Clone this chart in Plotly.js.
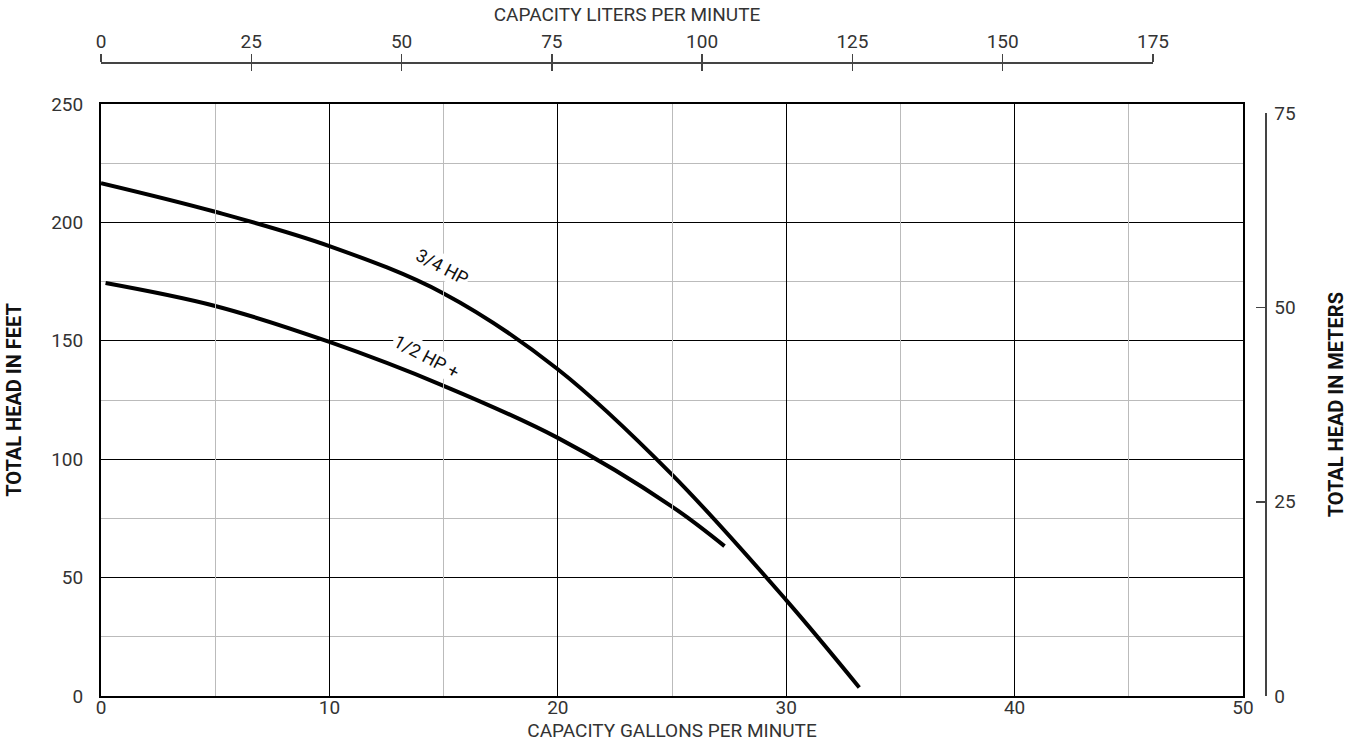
<!DOCTYPE html>
<html>
<head>
<meta charset="utf-8">
<script src="https://cdn.plot.ly/plotly-3.0.1.min.js"></script>
<style>html,body{margin:0;padding:0;background:#fff;}#chart{width:1355px;height:744px;}</style>
</head>
<body>
<div id="chart"></div>
<script>
// Data
const gpm34 = [0, 5, 10, 15, 20, 25, 30, 33.2];
const head34 = [216.6, 204.5, 190, 170, 138, 93.5, 40.5, 3.6];
const gpm12 = [0.2, 5, 10, 15, 20, 25, 27.3];
const head12 = [174.4, 164.7, 149.5, 131, 109, 80, 63.3];
const literTicks = [0, 25, 50, 75, 100, 125, 150, 175];
const meterTicks = [0, 25, 50, 75];
const labels = ["3/4 HP", "1/2 HP +"];

const FONT = "Roboto, 'Liberation Sans', sans-serif";
const txt = '#333';
const FS = 19;

const traces = [
  {x: [], y: [], xaxis: 'x2', yaxis: 'y3', mode: 'lines', hoverinfo: 'skip'},
  {x: [], y: [], xaxis: 'x3', yaxis: 'y3', mode: 'lines', hoverinfo: 'skip'},
  {x: [], y: [], xaxis: 'x', yaxis: 'y2', mode: 'lines', hoverinfo: 'skip'},
  {x: gpm34, y: head34, mode: 'lines', line: {color: '#000', width: 4, shape: 'spline', smoothing: 1}, xaxis: 'x', yaxis: 'y', hoverinfo: 'skip', cliponaxis: false},
  {x: gpm12, y: head12, mode: 'lines', line: {color: '#000', width: 4, shape: 'spline', smoothing: 1}, xaxis: 'x', yaxis: 'y', hoverinfo: 'skip', cliponaxis: false}
];

const plotDomX = 1142 / 1164;
const plotDomY = 592 / 634;
const topDomX = 1052 / 1164;
const meterDomY = (75 / 0.3048) / 250 * 592 / 634;

const layout = {
  width: 1355, height: 744,
  margin: {l: 101, r: 90, t: 62, b: 48},
  paper_bgcolor: '#fff', plot_bgcolor: 'rgba(0,0,0,0)',
  showlegend: false,
  font: {family: FONT, size: FS, color: txt},
  xaxis: {
    domain: [0, plotDomX], range: [0, 50], dtick: 10, tick0: 0,
    showline: true, linecolor: '#000', linewidth: 2, mirror: true,
    showgrid: true, gridcolor: '#000', gridwidth: 1.3,
    minor: {dtick: 5, showgrid: true, gridcolor: '#bbb', gridwidth: 1},
    ticks: '', zeroline: false, anchor: 'y', layer: 'below traces',
    ticklabelstandoff: -7,
    tickfont: {family: FONT, size: FS, color: txt},
    title: {text: 'CAPACITY GALLONS PER MINUTE', font: {family: FONT, size: FS, color: txt}, standoff: 0}
  },
  yaxis: {
    domain: [0, plotDomY], range: [0, 250], dtick: 50, tick0: 0,
    showline: true, linecolor: '#000', linewidth: 2, mirror: true,
    showgrid: true, gridcolor: '#000', gridwidth: 1.3,
    minor: {dtick: 25, showgrid: true, gridcolor: '#bbb', gridwidth: 1},
    ticks: '', zeroline: false, anchor: 'x', ticklabelstandoff: 12,
    tickfont: {family: FONT, size: FS, color: txt},
    title: {text: '<b>TOTAL HEAD IN FEET</b>', font: {family: FONT, size: 20, color: '#111'}, standoff: 24}
  },
  yaxis2: {
    domain: [0, meterDomY], range: [0, 75], tickvals: meterTicks,
    anchor: 'free', position: 1, side: 'right',
    showline: true, linecolor: '#444', linewidth: 1.5,
    ticks: 'inside', ticklen: 9, tickwidth: 1.5, tickcolor: '#444',
    showgrid: false, zeroline: false, ticklabelstandoff: 4,
    tickfont: {family: FONT, size: FS, color: txt},
    title: {text: '<b>TOTAL HEAD IN METERS</b>', font: {family: FONT, size: 20, color: '#111'}, standoff: 34}
  },
  yaxis3: {domain: [0, plotDomY], range: [0, 250], visible: false, anchor: 'x2'},
  xaxis2: {
    domain: [0, topDomX], range: [0, 175], tickvals: literTicks,
    anchor: 'free', position: 1, side: 'top',
    showline: true, linecolor: '#444', linewidth: 1.5,
    ticks: 'outside', ticklen: 8, tickwidth: 1.5, tickcolor: '#444',
    showgrid: false, zeroline: false, ticklabelstandoff: -2,
    tickfont: {family: FONT, size: FS, color: txt},
    title: {text: 'CAPACITY LITERS PER MINUTE', font: {family: FONT, size: FS, color: txt}, standoff: 2}
  },
  xaxis3: {
    domain: [0, topDomX], range: [0, 175], tickvals: literTicks,
    anchor: 'free', position: 1, side: 'top', overlaying: 'x2',
    showline: false, showticklabels: false,
    ticks: 'inside', ticklen: 8, tickwidth: 1.5, tickcolor: '#444',
    showgrid: false, zeroline: false
  },
  annotations: [
    {x: 14.93, y: 181.2, xref: 'x', yref: 'y', text: labels[0], showarrow: false, textangle: 28,
     bgcolor: '#fff', font: {family: FONT, size: 18, color: '#111'}, borderpad: 1},
    {x: 14.27, y: 143.2, xref: 'x', yref: 'y', text: labels[1], showarrow: false, textangle: 28,
     bgcolor: '#fff', font: {family: FONT, size: 18, color: '#111'}, borderpad: 1}
  ]
};

Plotly.newPlot('chart', traces, layout, {staticPlot: true, displayModeBar: false});
</script>
</body>
</html>
